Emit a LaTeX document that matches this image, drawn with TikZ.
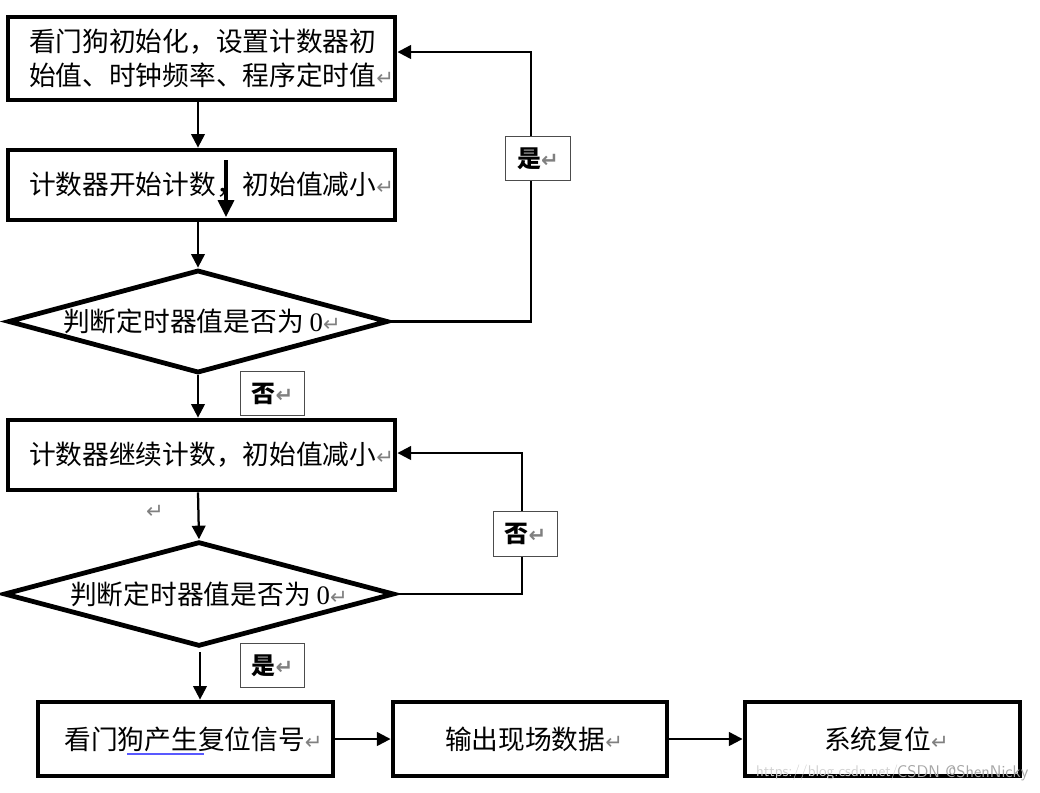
\documentclass[tikz,border=0pt]{standalone}
\usepackage{fontspec}
\setmainfont{Liberation Serif}
\newfontfamily\cjk{Noto Sans CJK SC}
\newfontfamily\symf{DejaVu Sans}
\usetikzlibrary{shapes.geometric,arrows.meta,calc}
\newcommand{\ret}{{\symf\color{gray}\fontsize{15}{15}\selectfont ↵}}
\begin{document}
\begin{tikzpicture}[x=0.025cm,y=-0.025cm,
  proc/.style={draw, line width=3.4pt, inner sep=0pt, font=\cjk\fontsize{19}{24}\selectfont},
  dec/.style={diamond, draw, line width=3.4pt, inner sep=0pt, font=\cjk\fontsize{19}{24}\selectfont},
  lab/.style={draw=black!70, line width=0.6pt, fill=white, inner sep=0pt, minimum width=1.62cm, minimum height=1.12cm, font=\cjk\bfseries\fontsize{17}{17}\selectfont},
  arr/.style={line width=1.6pt, -{Triangle[length=0.34cm,width=0.34cm]}},
  bigarr/.style={line width=2.2pt, -{Triangle[length=0.42cm,width=0.4cm]}},
  uline/.style={line width=0.8pt, draw=blue!65}]
\useasboundingbox (0,0) rectangle (1040,792);
% process boxes
\node[proc, minimum width=9.675cm, minimum height=2.075cm, align=left] (b1) at (201.5,58.5)
  {\hspace*{0.5cm}看门狗初始化，设置计数器初\\\hspace*{0.5cm}始值、时钟频率、程序定时值\ret};
\node[proc, minimum width=9.675cm, minimum height=1.75cm] (b2) at (201.5,185)
  {\hspace*{0.5cm}计数器开始计数，初始值减小\ret};
\node[dec, aspect=3.69, minimum width=9.5cm, minimum height=2.575cm] (d1) at (198,321.5)
  {\hspace*{0.2cm}判断定时器值是否为 {\rmfamily 0}\ret};
\node[proc, minimum width=9.675cm, minimum height=1.75cm] (b3) at (201.5,455)
  {\hspace*{0.5cm}计数器继续计数，初始值减小\ret};
\node[dec, aspect=3.73, minimum width=9.7cm, minimum height=2.6cm] (d2) at (199,594)
  {\hspace*{0.5cm}判断定时器值是否为 {\rmfamily 0}\ret};
\node[proc, minimum width=7.375cm, minimum height=1.85cm] (b4) at (185.5,739)
  {\hspace*{0.4cm}看门狗产生复位信号\ret};
\node[proc, minimum width=6.85cm, minimum height=1.85cm] (b5) at (530,739)
  {\hspace*{0.2cm}输出现场数据\ret};
\node[proc, minimum width=6.875cm, minimum height=1.85cm] (b6) at (882.5,739)
  {\hspace*{0.2cm}系统复位\ret};
% underline under 狗产生
\coordinate (u1) at (127,754);
\coordinate (u2) at (204,754);
\draw[uline] (u1) -- (u2);
% stray mark and arrow
\node[inner sep=0pt] (r1) at (155,512) {\ret};
\coordinate (s1) at (226,160);
\coordinate (s2) at (226,217);
\draw[bigarr] (s1) -- (s2);
% main flow
\draw[arr] (b1.south -| d1) -- (b2.north -| d1);
\draw[arr] (b2.south -| d1) -- (d1.north);
\draw[arr] (d1.south) -- (b3.north -| d1);
\draw[arr] (b3.south -| d1) -- (d2.north);
\coordinate (d2b) at (200,652);
\draw[arr] (d2b) -- (b4.north -| d2b);
\draw[arr] (b4.east) -- (b5.west);
\draw[arr] (b5.east) -- (b6.west);
% loops
\coordinate (c1) at (531,52);
\draw[arr] (d1.east) -| (c1) -- (c1 -| b1.east);
\coordinate (c2) at (522,453);
\draw[arr] (d2.east) -| (c2) -- (c2 -| b3.east);
% labels
\node[lab] (y1) at (538,158.5) {是\ret};
\node[lab] (n1) at (272.5,393.5) {否\ret};
\node[lab] (n2) at (525.5,534) {否\ret};
\node[lab] (y2) at (272.5,665.5) {是\ret};
% watermark
\node[text=black!18, font=\sffamily\fontsize{11}{11}\selectfont, anchor=east, inner sep=1pt] (wm1) at (900,773) {https://blog.csdn.net/};
\node[text=black!35, font=\sffamily\fontsize{12}{12}\selectfont, anchor=east, inner sep=1pt] (wm2) at (1030,773) {CSDN @ShenNicky};
\end{tikzpicture}
\end{document}
